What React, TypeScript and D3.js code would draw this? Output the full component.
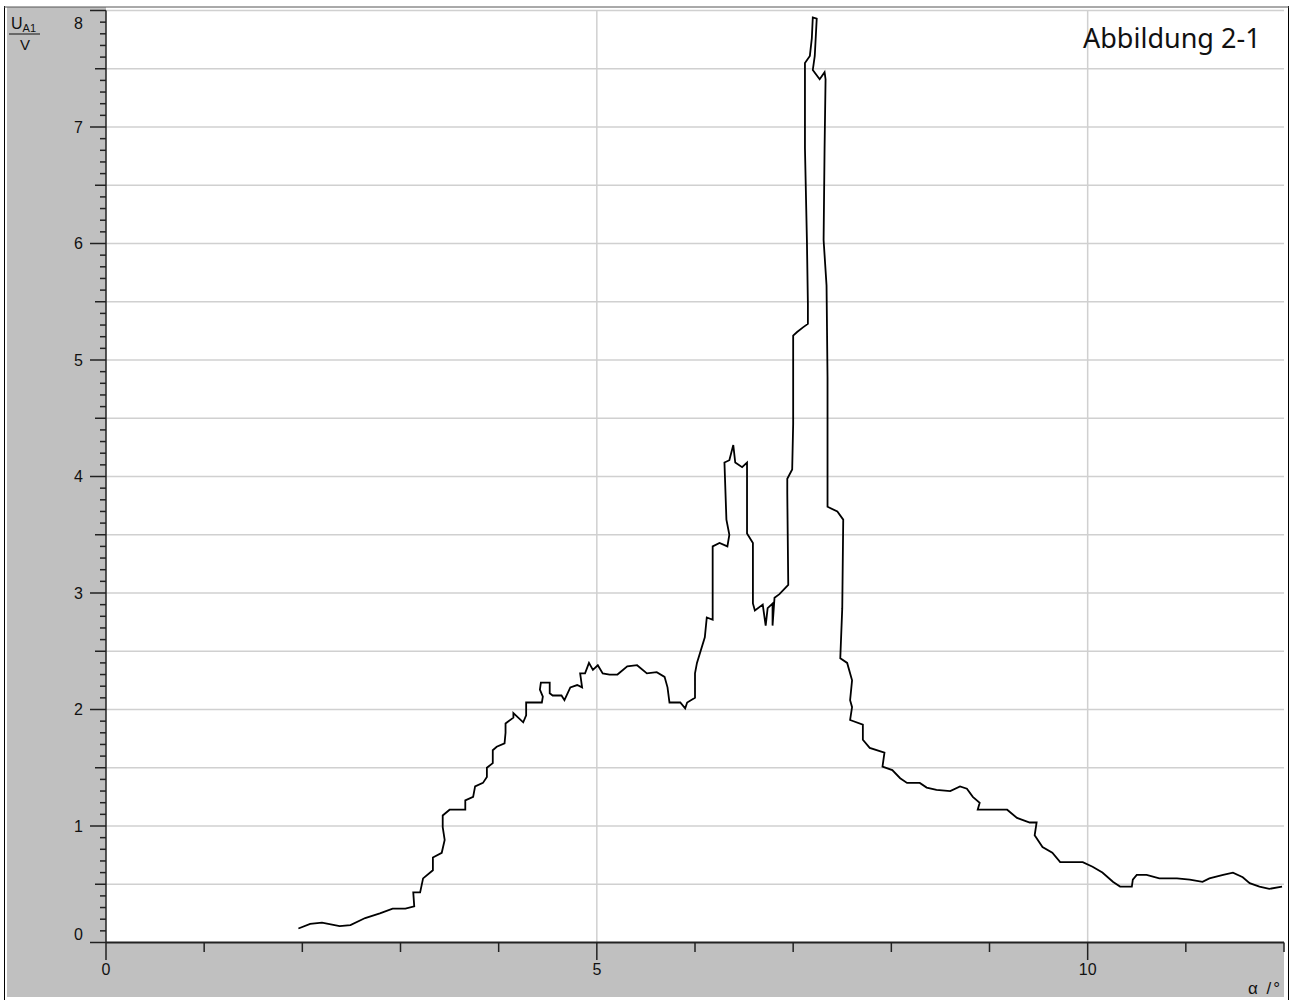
import * as d3 from "d3";

// trace: angle (°) and voltage U_A1 (V), in recording order
const alpha = [
  1.96, 2.08, 2.2, 2.38, 2.49, 2.64, 2.79, 2.92, 3.05, 3.14, 3.13, 3.2, 3.23, 3.33, 3.33, 3.42, 3.45, 3.43, 3.43, 3.5,
  3.66, 3.66, 3.74, 3.76, 3.84, 3.88, 3.88, 3.94, 3.94, 3.98, 4.06, 4.07, 4.07, 4.15, 4.15, 4.25, 4.28, 4.28, 4.44, 4.45,
  4.42, 4.43, 4.52, 4.52, 4.55, 4.64, 4.67, 4.73, 4.8, 4.85, 4.83, 4.88, 4.92, 4.96, 5.01, 5.06, 5.13, 5.21, 5.31, 5.41,
  5.51, 5.61, 5.69, 5.72, 5.74, 5.85, 5.9, 5.92, 6.0, 6.0, 6.02, 6.1, 6.12, 6.18, 6.18, 6.25, 6.33, 6.35, 6.32, 6.3,
  6.35, 6.39, 6.41, 6.48, 6.53, 6.53, 6.59, 6.59, 6.61, 6.69, 6.72, 6.74, 6.79, 6.79, 6.81, 6.86, 6.95, 6.94, 6.94, 6.99,
  7.0, 7.0, 7.04, 7.1, 7.15, 7.15, 7.14, 7.12, 7.12, 7.17, 7.19, 7.2, 7.24, 7.22, 7.2, 7.27, 7.32, 7.33, 7.32, 7.31,
  7.34, 7.35, 7.35, 7.45, 7.51, 7.5, 7.48, 7.55, 7.6, 7.58, 7.6, 7.58, 7.71, 7.71, 7.78, 7.93, 7.91, 8.01, 8.09, 8.16,
  8.29, 8.36, 8.46, 8.6, 8.7, 8.77, 8.83, 8.9, 8.88, 9.03, 9.18, 9.28, 9.41, 9.48, 9.46, 9.54, 9.64, 9.72, 9.85, 9.95,
  10.05, 10.15, 10.26, 10.33, 10.45, 10.46, 10.5, 10.6, 10.73, 10.91, 11.04, 11.17, 11.24, 11.38, 11.48, 11.58, 11.65, 11.75, 11.85, 11.98,
];
const voltage = [
  0.12, 0.16, 0.17, 0.14, 0.15, 0.21, 0.25, 0.29, 0.29, 0.31, 0.43, 0.43, 0.55, 0.62, 0.73, 0.77, 0.88, 0.99, 1.09, 1.14,
  1.14, 1.22, 1.25, 1.34, 1.37, 1.42, 1.5, 1.54, 1.65, 1.68, 1.71, 1.8, 1.88, 1.93, 1.97, 1.89, 1.95, 2.06, 2.06, 2.11,
  2.17, 2.23, 2.23, 2.14, 2.12, 2.12, 2.08, 2.19, 2.21, 2.19, 2.31, 2.31, 2.4, 2.34, 2.38, 2.31, 2.3, 2.3, 2.37, 2.38,
  2.31, 2.32, 2.28, 2.19, 2.06, 2.06, 2.01, 2.06, 2.1, 2.31, 2.4, 2.62, 2.79, 2.77, 3.4, 3.43, 3.4, 3.5, 3.63, 4.12,
  4.14, 4.27, 4.12, 4.08, 4.12, 3.51, 3.43, 2.91, 2.85, 2.9, 2.72, 2.87, 2.91, 2.72, 2.96, 2.99, 3.07, 3.86, 3.98, 4.06,
  4.45, 5.21, 5.24, 5.28, 5.31, 5.48, 6.03, 6.82, 7.55, 7.61, 7.76, 7.94, 7.93, 7.61, 7.49, 7.41, 7.47, 7.41, 6.82, 6.03,
  5.64, 4.85, 3.74, 3.7, 3.63, 2.87, 2.44, 2.4, 2.25, 2.08, 2.02, 1.91, 1.87, 1.74, 1.67, 1.63, 1.51, 1.48, 1.41, 1.37,
  1.37, 1.33, 1.31, 1.3, 1.34, 1.32, 1.25, 1.2, 1.14, 1.14, 1.14, 1.07, 1.03, 1.03, 0.92, 0.82, 0.77, 0.69, 0.69, 0.69,
  0.65, 0.6, 0.52, 0.48, 0.48, 0.54, 0.58, 0.58, 0.55, 0.55, 0.54, 0.52, 0.55, 0.58, 0.6, 0.56, 0.51, 0.48, 0.46, 0.48,
];

const yTickLabels = ["0", "1", "2", "3", "4", "5", "6", "7", "8"];
const xTickLabels = ["0", "5", "10"];

const W = 1293;
const H = 1000;
const left = 106;
const right = 1284;
const top = 10.5;
const bottom = 942.5;

const GRAY = "#c0c0c0";
const GRID = "#d0d0d0";
const axisFont = "'Liberation Sans', Arial, sans-serif";

export default function App() {
  const x = d3.scaleLinear().domain([0, 12]).range([left, right]);
  const y = d3.scaleLinear().domain([0, 8]).range([bottom, top]);

  const points: [number, number][] = alpha.map((a, i) => [a, voltage[i]]);
  const line = d3
    .line<[number, number]>()
    .x((d) => x(d[0]))
    .y((d) => y(d[1]));

  const yMinor = d3.range(0, 81).map((i) => i / 10);
  const yGrid = d3.range(1, 17).map((i) => i / 2);
  const xTicks = d3.range(0, 13);

  return (
    <svg
      width={W}
      height={H}
      style={{ position: "absolute", left: 0, top: 0, background: "#fff" }}
    >
      {/* gray axis panels */}
      <rect x={7} y={7} width={left - 7} height={997 - 7} fill={GRAY} />
      <rect x={left} y={bottom} width={right - left} height={997 - bottom} fill={GRAY} />

      {/* outer frame */}
      <line x1={4.5} x2={4.5} y1={6} y2={1000} stroke="#000" />
      <line x1={1288.5} x2={1288.5} y1={6} y2={1000} stroke="#000" />
      <line x1={4} x2={1289} y1={7} y2={7} stroke="#555" />

      {/* grid */}
      {yGrid.map((v) => (
        <line key={"gy" + v} x1={left} x2={right} y1={y(v)} y2={y(v)} stroke={GRID} strokeWidth={1.5} />
      ))}
      {[5, 10].map((v) => (
        <line key={"gx" + v} x1={x(v)} x2={x(v)} y1={top} y2={bottom} stroke={GRID} strokeWidth={1.5} />
      ))}

      {/* y axis */}
      <line x1={left} x2={left} y1={top} y2={bottom} stroke="#222" strokeWidth={1.5} />
      {yMinor.map((v, i) => {
        const len = i % 10 === 0 ? 16 : i % 5 === 0 ? 11 : 6;
        return (
          <line key={"ty" + i} x1={left - len} x2={left} y1={y(v)} y2={y(v)} stroke="#222" strokeWidth={1.5} />
        );
      })}
      {yTickLabels.map((t, i) => (
        <text
          key={"ly" + t}
          x={83}
          y={Math.min(Math.max(y(i), 23), 934)}
          dy="0.36em"
          textAnchor="end"
          fontFamily={axisFont}
          fontSize={16}
          fill="#111"
        >
          {t}
        </text>
      ))}

      {/* x axis */}
      <line x1={left} x2={right} y1={bottom} y2={bottom} stroke="#222" strokeWidth={2} />
      {xTicks.map((v) => (
        <line
          key={"tx" + v}
          x1={x(v)}
          x2={x(v)}
          y1={bottom}
          y2={v % 5 === 0 ? 960 : 952}
          stroke="#222"
          strokeWidth={1.5}
        />
      ))}
      {xTickLabels.map((t) => (
        <text
          key={"lx" + t}
          x={x(+t)}
          y={975}
          textAnchor="middle"
          fontFamily={axisFont}
          fontSize={16}
          fill="#111"
        >
          {t}
        </text>
      ))}

      {/* axis titles */}
      <text x={11} y={29} fontFamily={axisFont} fontSize={16} fill="#111">
        U
        <tspan fontSize={11} dy={3}>A1</tspan>
      </text>
      <line x1={9} x2={40} y1={34} y2={34} stroke="#111" />
      <text x={25} y={50} textAnchor="middle" fontFamily={axisFont} fontSize={15} fill="#111">
        V
      </text>
      <text x={1248} y={994} fontFamily={axisFont} fontSize={17} letterSpacing={2} fill="#111">
        α /°
      </text>

      {/* measured trace */}
      <path d={line(points) ?? ""} fill="none" stroke="#000" strokeWidth={1.8} strokeLinejoin="miter" />

      <text x={1083} y={48} fontFamily="'Noto Sans', 'Open Sans', sans-serif" fontSize={27} fill="#111">
        Abbildung 2-1
      </text>
    </svg>
  );
}
